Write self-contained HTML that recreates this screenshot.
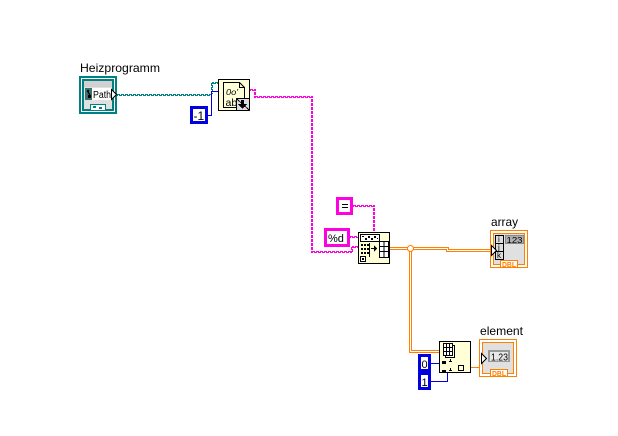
<!DOCTYPE html>
<html>
<head>
<meta charset="utf-8">
<style>
html,body{margin:0;padding:0;background:#fff;width:618px;height:436px;overflow:hidden}
svg{display:block;shape-rendering:crispEdges}
text{font-family:"Liberation Sans",sans-serif;fill:#000;shape-rendering:auto}
.o{fill:none;stroke:#ff8000;stroke-width:1}
.b{fill:none;stroke:#0000e0;stroke-width:1}
.p{fill:none;stroke:#ff00e0;stroke-width:1;stroke-dasharray:3 1}
.p2{fill:none;stroke:#ff00e0;stroke-width:1;stroke-dasharray:3 1;stroke-dashoffset:2}
.t{fill:none;stroke:#008080;stroke-width:1;stroke-dasharray:3 1}
.t2{fill:none;stroke:#008080;stroke-width:1;stroke-dasharray:3 1;stroke-dashoffset:2}
.ic{fill:#ffffd8;stroke:#000;stroke-width:1}
.k{fill:none;stroke:#000;stroke-width:1}
.d{font-weight:bold;fill:#ff8000}
</style>
</head>
<body>
<svg width="618" height="436" viewBox="0 0 618 436" xmlns="http://www.w3.org/2000/svg">
<rect width="618" height="436" fill="#fff"/>

<!-- Teal path wire -->
<path class="t" d="M117 94.500H211"/>
<path class="t2" d="M117 95.500H211"/>
<path class="t" d="M211.500 94V83.500H218"/>
<path class="t2" d="M212.500 94V82.500H218"/>

<!-- Blue wire -1 -->
<path class="b" d="M208 115.500H211.500V91.500H218"/>

<!-- Pink wires -->
<path class="p" d="M250 89.500H255.500V96.500H312.500V251.500H352.500V246.500H358"/>
<path class="p2" d="M250 90.500H254.500V97.500H311.500V252.500H351.500V247.500H358"/>
<path class="p" d="M353 205.500H374.500V232"/>
<path class="p2" d="M353 206.500H373.500V232"/>
<path class="p" d="M350 236.500H358"/>
<path class="p2" d="M350 237.500H358"/>

<!-- Orange double wires -->
<path d="M390 248.500H447.500V250.500H490" fill="none" stroke="#ff8000" stroke-width="3"/>
<path d="M390 248.500H447.500V250.500H490" fill="none" stroke="#fff" stroke-width="1"/>
<path d="M410.500 248V351.500H439" fill="none" stroke="#ff8000" stroke-width="3"/>
<path d="M410.500 248V351.500H439" fill="none" stroke="#fff" stroke-width="1"/>
<circle cx="410.500" cy="248.500" r="3" fill="#fff" stroke="#ff8000" stroke-width="1" style="shape-rendering:auto"/>
<path class="o" d="M471 367.500H479"/>

<!-- Blue wires 0 / 1 -->
<path class="b" d="M431 363.500H439"/>
<path class="b" d="M431 381.500H447.500V373"/>

<!-- Heizprogramm control -->
<text x="80" y="72" font-size="12" textLength="80" lengthAdjust="spacingAndGlyphs">Heizprogramm</text>
<rect x="79" y="76" width="38" height="38" fill="#008080"/>
<rect x="81" y="78" width="34" height="34" fill="#fff"/>
<rect x="82" y="79" width="32" height="32" fill="#008080"/>
<rect x="84" y="81" width="28" height="28" fill="#e0e0e0"/>
<rect x="84" y="81" width="28" height="6" fill="#d0d0d0"/>
<rect x="85" y="88" width="27" height="12" fill="#fff"/>
<rect x="85" y="88" width="7" height="12" fill="#3a7070"/>
<rect x="87" y="90" width="2" height="2" fill="#000"/>
<rect x="88" y="95" width="3" height="3" fill="#000"/>
<path d="M88 92L90 95" stroke="#000" stroke-width="1" fill="none"/>
<text x="93" y="98" font-size="10" textLength="18" lengthAdjust="spacingAndGlyphs">Path</text>
<path d="M111.500 89.500L116.500 94.500L111.500 99.500Z" fill="#fff" stroke="#000"/>
<rect x="90.500" y="104.500" width="15" height="6" fill="#fff" stroke="#008080"/>
<rect x="93" y="106" width="3" height="2" fill="#008080"/>
<rect x="99" y="107" width="3" height="2" fill="#008080"/>

<!-- -1 constant -->
<rect x="191.500" y="107.500" width="15" height="15" fill="#fff" stroke="#0000e0" stroke-width="3"/>
<text x="193.500" y="120" font-size="12">-1</text>

<!-- Read file icon -->
<rect x="218.500" y="79.500" width="31" height="31" class="ic"/>
<path d="M223.500 82.500H239.500L244.500 87.500V107.500H223.500Z" fill="#ffffd8" stroke="#000"/>
<path d="M239.500 82.500V87.500H244.500" class="k"/>
<text x="226" y="95" font-size="8" font-style="italic" textLength="12" lengthAdjust="spacingAndGlyphs">0o'</text>
<text x="225.500" y="106" font-size="10.500">ab</text>
<rect x="236.500" y="98.500" width="13" height="12" fill="#ddd" stroke="#000"/>
<path d="M237 99L249 110" class="k"/>
<path d="M241 100H244V104H247L242.500 109L238 104H241Z" fill="#000"/>

<!-- = constant -->
<rect x="337.500" y="198.500" width="14" height="15" fill="#fff" stroke="#ff00e0" stroke-width="3"/>
<rect x="342" y="204" width="6" height="1" fill="#000"/>
<rect x="342" y="207" width="6" height="1" fill="#000"/>

<!-- %d constant -->
<rect x="325.500" y="229.500" width="23" height="16" fill="#fff" stroke="#ff00e0" stroke-width="3"/>
<text x="328" y="242" font-size="11">%d</text>

<!-- Spreadsheet string to array icon -->
<rect x="358.500" y="232.500" width="31" height="31" class="ic"/>
<rect x="360.500" y="234.500" width="19" height="7" fill="#fff" stroke="#000"/>
<path d="M362 236h2v1h-2zM365 238h2v2h-2zM368 236h2v2h-2zM371 238h2v2h-2zM374 236h2v2h-2zM377 238h1v1h-1z" fill="#000"/>
<path d="M361 244h2v2h-2zM364 244h2v2h-2zM367 244h2v2h-2zM361 248h2v2h-2zM364 248h2v2h-2zM367 248h2v2h-2zM361 252h2v2h-2zM364 252h2v2h-2zM367 252h2v2h-2z" fill="#000"/>
<path d="M369.500 243V257" class="k"/>
<path d="M371 248.500H375" class="k"/>
<path d="M374 245.500L377 248.500L374 251.500Z" fill="#000"/>
<rect x="379.500" y="241.500" width="9" height="16" fill="#fff" stroke="#000"/>
<path d="M384 241.500V257.500M379.500 246.500H388.500M379.500 251.500H388.500" class="k"/>
<rect x="360.500" y="256.500" width="5" height="5" fill="#fff" stroke="#000"/>
<rect x="362" y="258" width="2" height="2" fill="#000"/>

<!-- array indicator -->
<text x="491" y="226" font-size="12" textLength="27" lengthAdjust="spacingAndGlyphs">array</text>
<rect x="490.500" y="230.500" width="37" height="37" fill="#fff" stroke="#ff8000"/>
<rect x="493.500" y="233.500" width="31" height="31" fill="#e0e0e0" stroke="#ff8000"/>
<rect x="495.500" y="235.500" width="8" height="8" fill="#ddd" stroke="#000"/>
<rect x="495.500" y="243.500" width="8" height="8" fill="#ddd" stroke="#000"/>
<rect x="495.500" y="251.500" width="8" height="8" fill="#ddd" stroke="#000"/>
<text x="498" y="242" font-size="8">i</text>
<text x="498" y="250" font-size="8">j</text>
<text x="497" y="258" font-size="8">k</text>
<rect x="505.500" y="235.500" width="18" height="8" fill="#b0b0b0" stroke="#888"/>
<text x="506.500" y="243" font-size="8" textLength="16" lengthAdjust="spacingAndGlyphs">123</text>
<path d="M491.500 245.500L496.500 250.500L491.500 255.500Z" fill="#fff" stroke="#000"/>
<rect x="500.500" y="260.500" width="17" height="7" fill="#fff" stroke="#ff8000"/>
<text x="502" y="267" font-size="7" class="d" textLength="14" lengthAdjust="spacingAndGlyphs">DBL</text>

<!-- Index array icon -->
<rect x="439.500" y="341.500" width="31" height="31" class="ic"/>
<rect x="445.500" y="345.500" width="9" height="12" fill="#fff" stroke="#000"/>
<rect x="443.500" y="343.500" width="9" height="12" fill="#fff" stroke="#000"/>
<path d="M446.500 343.500V355.500M449.500 343.500V355.500M443.500 347.500H452.500M443.500 351.500H452.500" class="k"/>
<rect x="442" y="361" width="4" height="3" fill="#000"/>
<rect x="442" y="370" width="4" height="3" fill="#000"/>
<path d="M449 361h1v-2h1v2h1v1h-3zM449 370h1v-2h1v2h1v1h-3z" fill="#000"/>
<rect x="458.500" y="365.500" width="5" height="5" fill="#ffffd8" stroke="#000"/>

<!-- 0 and 1 constants -->
<rect x="419.500" y="355.500" width="10" height="15" fill="#fff" stroke="#0000e0" stroke-width="3"/>
<text x="421.500" y="368" font-size="11">0</text>
<rect x="419.500" y="373.500" width="10" height="15" fill="#fff" stroke="#0000e0" stroke-width="3"/>
<text x="421.500" y="386" font-size="11">1</text>

<!-- element indicator -->
<text x="480" y="335" font-size="12" textLength="43" lengthAdjust="spacingAndGlyphs">element</text>
<rect x="479.500" y="339.500" width="37" height="37" fill="#fff" stroke="#ff8000"/>
<rect x="482.500" y="342.500" width="31" height="31" fill="#e0e0e0" stroke="#ff8000"/>
<rect x="488" y="350" width="22" height="12" fill="#999"/>
<rect x="490" y="352" width="18" height="9" fill="#e8e8e8"/>
<text x="491" y="360.500" font-size="10" textLength="17" lengthAdjust="spacingAndGlyphs">1.23</text>
<path d="M481.500 353.500L486.500 358.500L481.500 363.500Z" fill="#fff" stroke="#000"/>
<rect x="490.500" y="369.500" width="17" height="7" fill="#fff" stroke="#ff8000"/>
<text x="492" y="376" font-size="7" class="d" textLength="14" lengthAdjust="spacingAndGlyphs">DBL</text>
</svg>
</body>
</html>
